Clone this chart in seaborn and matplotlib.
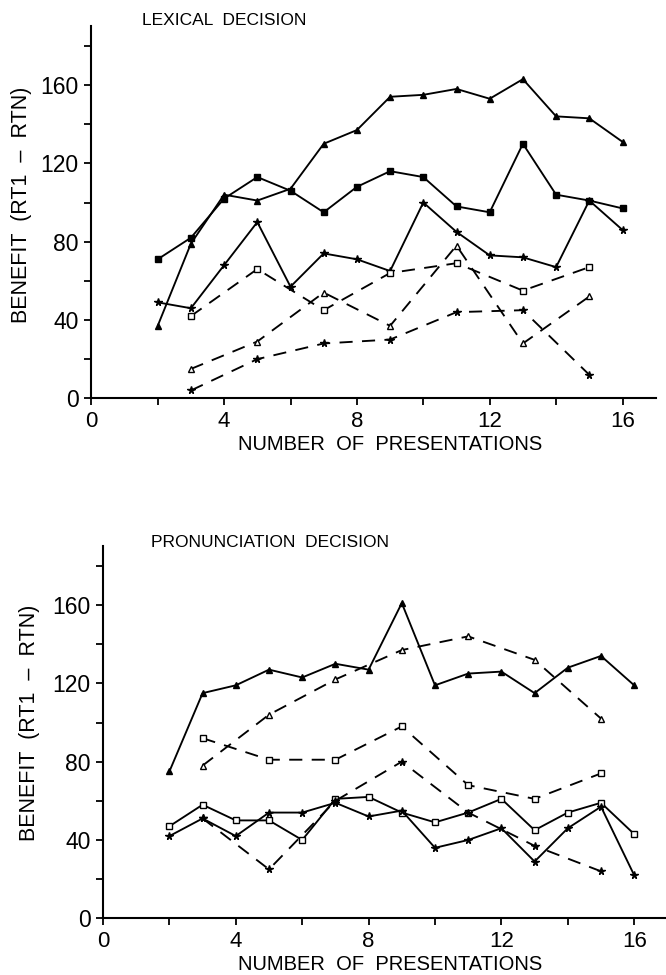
import matplotlib
matplotlib.use("Agg")
import matplotlib.pyplot as plt
import seaborn as sns
import numpy as np

# ---------------- data ----------------
# Lexical decision (top panel)
lex_x_all = [2, 3, 4, 5, 6, 7, 8, 9, 10, 11, 12, 13, 14, 15, 16]
lex_solid_tri = [37, 79, 104, 101, 107, 130, 137, 154, 155, 158, 153, 163, 144, 143, 131]
lex_solid_sq = [71, 82, 102, 113, 106, 95, 108, 116, 113, 98, 95, 130, 104, 101, 97]
lex_solid_star = [49, 46, 68, 90, 57, 74, 71, 65, 100, 85, 73, 72, 67, 101, 86]

lex_x_odd = [3, 5, 7, 9, 11, 13, 15]
lex_dash_sq = [42, 66, 45, 64, 69, 55, 67]
lex_dash_tri = [15, 29, 54, 37, 78, 28, 52]
lex_dash_star = [4, 20, 28, 30, 44, 45, 12]

# Pronunciation decision (bottom panel)
pro_x_all = [2, 3, 4, 5, 6, 7, 8, 9, 10, 11, 12, 13, 14, 15, 16]
pro_solid_tri = [75, 115, 119, 127, 123, 130, 127, 161, 119, 125, 126, 115, 128, 134, 119]
pro_solid_sq = [47, 58, 50, 50, 40, 61, 62, 54, 49, 54, 61, 45, 54, 59, 43]
pro_solid_star = [42, 51, 42, 54, 54, 59, 52, 55, 36, 40, 46, 29, 46, 57, 22]

pro_x_odd = [3, 5, 7, 9, 11, 13, 15]
pro_dash_tri = [78, 104, 122, 137, 144, 132, 102]
pro_dash_sq = [92, 81, 81, 98, 68, 61, 74]
pro_dash_star = [51, 25, 60, 80, 54, 37, 24]

titles = ["LEXICAL  DECISION", "PRONUNCIATION  DECISION"]
xlabel = "NUMBER  OF  PRESENTATIONS"
ylabel = "BENEFIT  (RT1  \u2013  RTN)"
xtick_vals = [0, 2, 4, 6, 8, 10, 12, 14, 16]
xtick_labels = ["0", "", "4", "", "8", "", "12", "", "16"]
ytick_vals = [0, 20, 40, 60, 80, 100, 120, 140, 160, 180]
ytick_labels = ["0", "", "40", "", "80", "", "120", "", "160", ""]

# ---------------- style ----------------
sns.set_theme(style="ticks")
plt.rcParams["font.family"] = ["Liberation Sans", "DejaVu Sans"]
plt.rcParams["axes.linewidth"] = 1.5
plt.rcParams["xtick.major.width"] = 1.3
plt.rcParams["ytick.major.width"] = 1.3
plt.rcParams["xtick.major.size"] = 5
plt.rcParams["ytick.major.size"] = 5

fig = plt.figure(figsize=(6.66, 9.75), dpi=100)
W, H = 666.0, 975.0
px_per_x = 33.2

ax1 = fig.add_axes([91.3 / W, (H - 398.3) / H, 17 * px_per_x / W, 372.0 / H])
ax2 = fig.add_axes([103.0 / W, (H - 918.3) / H, 16.95 * px_per_x / W, 372.0 / H])

LW = 1.35
DASH = (0, (7, 5))
MS = 5


def draw(ax, x, y, marker, dashed, filled):
    sns.lineplot(
        x=x, y=y, ax=ax, color="black", linewidth=LW,
        linestyle=DASH if dashed else "-",
        marker=marker, markersize=MS if marker != "*" else MS + 0.5,
        markerfacecolor="black" if filled else "white",
        markeredgecolor="black", markeredgewidth=1.0,
        errorbar=None, sort=False, legend=False,
    )


# top panel
draw(ax1, lex_x_all, lex_solid_tri, "^", False, True)
draw(ax1, lex_x_all, lex_solid_sq, "s", False, True)
draw(ax1, lex_x_all, lex_solid_star, "*", False, True)
draw(ax1, lex_x_odd, lex_dash_sq, "s", True, False)
draw(ax1, lex_x_odd, lex_dash_tri, "^", True, False)
draw(ax1, lex_x_odd, lex_dash_star, "*", True, True)

# bottom panel
draw(ax2, pro_x_all, pro_solid_tri, "^", False, True)
draw(ax2, pro_x_all, pro_solid_sq, "s", False, False)
draw(ax2, pro_x_all, pro_solid_star, "*", False, True)
draw(ax2, pro_x_odd, pro_dash_tri, "^", True, False)
draw(ax2, pro_x_odd, pro_dash_sq, "s", True, False)
draw(ax2, pro_x_odd, pro_dash_star, "*", True, True)

for ax, title, xl_x, tx, ty in [(ax1, titles[0], 0.53, 1.53, 193),
                                (ax2, titles[1], 0.51, 1.45, 192)]:
    ax.set_xlim(0, 17 if ax is ax1 else 16.95)
    ax.set_ylim(0, 190)
    ax.set_xticks(xtick_vals)
    ax.set_xticklabels(xtick_labels, fontsize=16)
    ax.set_yticks(ytick_vals)
    ax.set_yticklabels(ytick_labels, fontsize=16.5)
    ax.tick_params(axis="both", direction="out", colors="black", pad=4)
    sns.despine(ax=ax)
    for s in ("left", "bottom"):
        ax.spines[s].set_color("black")
    ax.set_xlabel(xlabel, fontsize=14.5, color="black")
    ax.set_ylabel(ylabel, fontsize=15.5, color="black")
    ax.xaxis.set_label_coords(xl_x, -0.1)
    ax.text(tx, ty, title, fontsize=12.5, color="black", ha="left", va="center",
            clip_on=False)

ax1.yaxis.set_label_coords(-0.105, 0.52)
ax2.yaxis.set_label_coords(-0.112, 0.526)

fig.savefig("out.png", dpi=100)
